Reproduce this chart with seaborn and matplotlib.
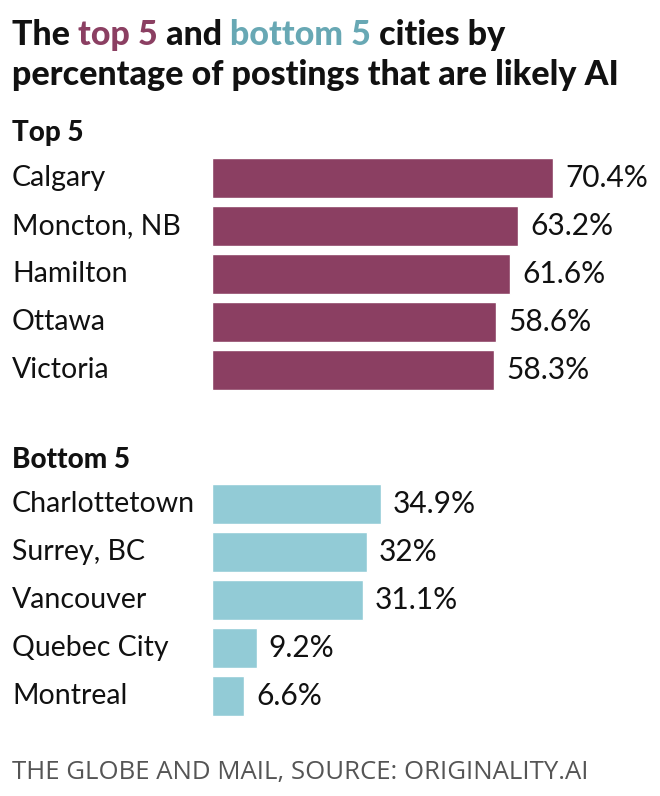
import matplotlib.pyplot as plt
import matplotlib.transforms as mtransforms
import seaborn as sns
import pandas as pd

top_cities = ['Calgary', 'Moncton, NB', 'Hamilton', 'Ottawa', 'Victoria']
top_values = [70.4, 63.2, 61.6, 58.6, 58.3]
top_labels = ['70.4%', '63.2%', '61.6%', '58.6%', '58.3%']

bottom_cities = ['Charlottetown', 'Surrey, BC', 'Vancouver', 'Quebec City', 'Montreal']
bottom_values = [34.9, 32.0, 31.1, 9.2, 6.6]
bottom_labels = ['34.9%', '32%', '31.1%', '9.2%', '6.6%']

TOP_COLOR = '#8b3f62'
BOTTOM_COLOR = '#92cbd6'
BOTTOM_TITLE = '#68a8b4'

sns.set_style('white')
plt.rcParams['font.family'] = ['Lato', 'DejaVu Sans']

W, H = 660, 796
fig = plt.figure(figsize=(W / 100, H / 100), dpi=100)

xmax = 448 / 4.844


def panel(rect, cities, values, labels, color):
    ax = fig.add_axes(rect)
    df = pd.DataFrame({'city': cities, 'value': values})
    sns.barplot(data=df, x='value', y='city', color=color, width=0.82,
                saturation=1, ax=ax)
    ax.set_xlim(0, xmax)
    ax.set(xlabel=None, ylabel=None, xticks=[], yticks=[])
    sns.despine(ax=ax, left=True, bottom=True)
    trans = mtransforms.blended_transform_factory(fig.transFigure, ax.transData)
    for i, (c, v, lab) in enumerate(zip(cities, values, labels)):
        ax.text(12 / W, i, c, transform=trans, ha='left', va='center',
                fontsize=20.5, color='#111111')
        ax.text(v + 2.5, i, lab, ha='left', va='center', fontsize=21.5,
                color='#111111')
    return ax


panel([212 / W, 1 - 394 / H, 1 - 212 / W, 240 / H],
      top_cities, top_values, top_labels, TOP_COLOR)
panel([212 / W, 1 - 720 / H, 1 - 212 / W, 240 / H],
      bottom_cities, bottom_values, bottom_labels, BOTTOM_COLOR)

# section headers
fig.text(12 / W, 1 - 133 / H, 'Top 5', fontsize=20, fontweight='black',
         ha='left', va='center', color='#111111')
fig.text(12 / W, 1 - 460 / H, 'Bottom 5', fontsize=20, fontweight='black',
         ha='left', va='center', color='#111111')

# multi-coloured title
fig.canvas.draw()
renderer = fig.canvas.get_renderer()
parts = [('The ', '#111111'), ('top 5', TOP_COLOR), (' and ', '#111111'),
         ('bottom 5', BOTTOM_TITLE), (' cities by', '#111111')]
x = 12 / W
for txt, col in parts:
    t = fig.text(x, 1 - 35 / H, txt, fontsize=24.5, fontweight='black',
                 ha='left', va='center', color=col)
    bb = t.get_window_extent(renderer)
    x += bb.width / W
fig.text(12 / W, 1 - 75 / H, 'percentage of postings that are likely AI',
         fontsize=24.5, fontweight='black', ha='left', va='center', color='#111111')

fig.text(12 / W, 1 - 773 / H, 'THE GLOBE AND MAIL, SOURCE: ORIGINALITY.AI',
         fontsize=18.5, family='Open Sans', ha='left', va='center', color='#555555')

fig.savefig('out.png', dpi=100, facecolor='white')
plt.close(fig)
